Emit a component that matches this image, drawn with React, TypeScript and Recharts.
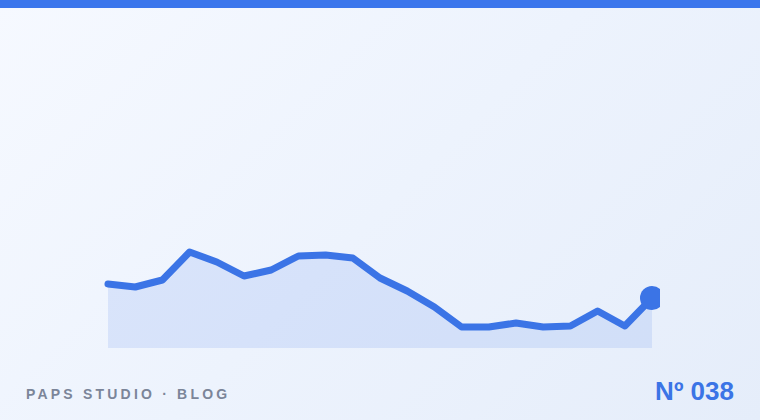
import React from "react";
import { AreaChart, Area, XAxis, YAxis } from "recharts";

const labels = ["1","2","3","4","5","6","7","8","9","10","11","12","13","14","15","16","17","18","19","20","21"];
const values = [64, 61, 68, 96, 86, 72, 78, 92, 93, 90, 70, 57, 41, 21, 21, 25, 21, 22, 37, 22, 50];

const data = labels.map((l, i) => ({ name: l, v: values[i] }));

const LastDot = (props: any) => {
  const { cx, cy, index } = props;
  if (index !== values.length - 1) return <g key={index} />;
  return <circle key={index} cx={cx} cy={cy} r={12} fill="#3b74e6" />;
};

export default function App() {
  return (
    <div
      style={{
        position: "fixed",
        left: 0,
        top: 0,
        width: 760,
        height: 420,
        overflow: "hidden",
        background: "linear-gradient(135deg, #f6f9ff 0%, #edf3fd 50%, #e5edfa 100%)",
        fontFamily: "'Liberation Sans', Arial, sans-serif",
      }}
    >
      <div style={{ position: "absolute", left: 0, top: 0, width: 760, height: 8, background: "#3b76ec" }} />
      <div style={{ position: "absolute", left: 0, top: 0 }}>
        <AreaChart width={660} height={360} data={data} margin={{ top: 248, right: 8, bottom: 12, left: 108 }}>
          <XAxis dataKey="name" hide />
          <YAxis domain={[0, 100]} hide />
          <Area
            type="linear"
            dataKey="v"
            stroke="#3b74e6"
            strokeWidth={7}
            strokeLinejoin="round"
            strokeLinecap="round"
            fill="#3b74e6"
            fillOpacity={0.13}
            dot={LastDot}
            activeDot={false}
            isAnimationActive={false}
          />
        </AreaChart>
      </div>
      <div
        style={{
          position: "absolute",
          left: 26,
          top: 385.5,
          fontSize: 14,
          lineHeight: "16px",
          fontWeight: 700,
          letterSpacing: 3.2,
          color: "#7b8599",
          whiteSpace: "nowrap",
        }}
      >
        PAPS STUDIO · BLOG
      </div>
      <div
        style={{
          position: "absolute",
          right: 26,
          top: 376,
          fontSize: 26,
          lineHeight: "30px",
          fontWeight: 700,
          color: "#3b74e6",
          whiteSpace: "nowrap",
        }}
      >
        Nº 038
      </div>
    </div>
  );
}
